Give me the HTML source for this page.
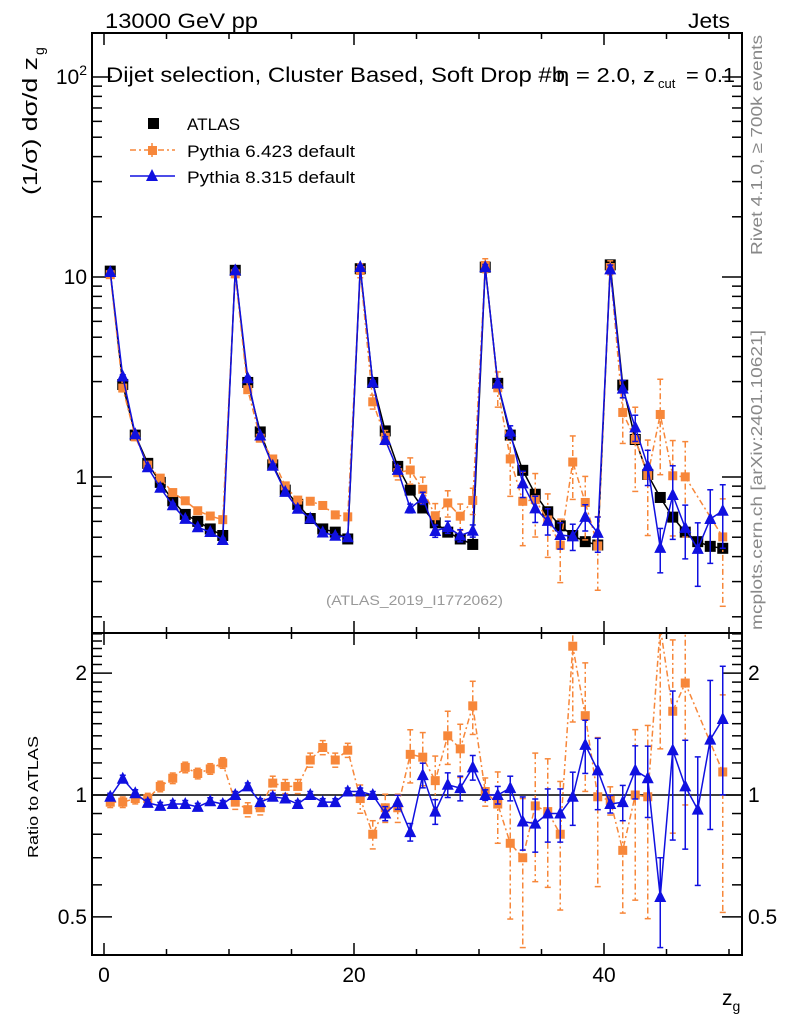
<!DOCTYPE html>
<html><head><meta charset="utf-8">
<style>
html,body{margin:0;padding:0;background:#fff;}
svg{display:block;font-family:"Liberation Sans",sans-serif;}
</style></head>
<body>
<svg id="chart" width="786" height="1024" viewBox="0 0 786 1024" xmlns="http://www.w3.org/2000/svg">
<defs>
<clipPath id="clipMain"><rect x="92" y="33" width="650" height="600"/></clipPath>
<clipPath id="clipRatio"><rect x="92" y="633" width="650" height="322"/></clipPath>
</defs>
<rect x="0" y="0" width="786" height="1024" fill="#fff"/>
<g id="axes"></g>
<g id="mainMarks" clip-path="url(#clipMain)"></g>
<g id="ratioMarks" clip-path="url(#clipRatio)"></g>
<rect x="92" y="33" width="650" height="600" fill="none" stroke="#000" stroke-width="2"/>
<rect x="92" y="633" width="650" height="322" fill="none" stroke="#000" stroke-width="2"/>

<text x="105" y="28" font-size="21" textLength="153" lengthAdjust="spacingAndGlyphs">13000 GeV pp</text>
<text x="688" y="28" font-size="21" textLength="42" lengthAdjust="spacingAndGlyphs">Jets</text>
<g>
<text x="106" y="82" font-size="21" textLength="459" lengthAdjust="spacingAndGlyphs">Dijet selection, Cluster Based, Soft Drop #b</text>
<text x="556" y="82" font-size="20" textLength="99" lengthAdjust="spacingAndGlyphs">η = 2.0, z</text>
<text x="658" y="88" font-size="13">cut</text>
<text x="686" y="82" font-size="20" textLength="49" lengthAdjust="spacingAndGlyphs">= 0.1</text>
</g>
<g>
<text transform="translate(37,195) rotate(-90)" font-size="20" textLength="138" lengthAdjust="spacingAndGlyphs">(1/σ) dσ/d z</text>
<text transform="translate(44,55) rotate(-90)" font-size="14">g</text>
</g>
<text transform="translate(762,255) rotate(-90)" font-size="16" fill="#888" textLength="220" lengthAdjust="spacingAndGlyphs">Rivet 4.1.0, ≥ 700k events</text>
<text transform="translate(762,630) rotate(-90)" font-size="16" fill="#888" textLength="300" lengthAdjust="spacingAndGlyphs">mcplots.cern.ch [arXiv:2401.10621]</text>
<text x="326" y="605" font-size="14" fill="#999" textLength="177" lengthAdjust="spacingAndGlyphs">(ATLAS_2019_I1772062)</text>
<text transform="translate(38,858) rotate(-90)" font-size="15" textLength="122" lengthAdjust="spacingAndGlyphs">Ratio to ATLAS</text>
<text x="722" y="1005" font-size="21">z<tspan font-size="14" dy="6">g</tspan></text>

<g>
  <g>
    <rect x="148" y="118" width="11" height="11" fill="#000"/>
    <text x="187" y="130" font-size="17" textLength="53" lengthAdjust="spacingAndGlyphs">ATLAS</text>
  </g>
  <g>
    <line x1="130" y1="150" x2="175" y2="150" stroke="#f7873a" stroke-width="1.5" stroke-dasharray="6,3,2,3"/>
    <line x1="152" y1="143" x2="152" y2="157" stroke="#f7873a" stroke-width="1.5"/>
    <rect x="148" y="146" width="9" height="9" fill="#f7873a"/>
    <text x="187" y="157" font-size="17" textLength="168" lengthAdjust="spacingAndGlyphs">Pythia 6.423 default</text>
  </g>
  <g>
    <line x1="130" y1="176" x2="175" y2="176" stroke="#1010e0" stroke-width="1.5"/>
    <polygon points="152,169 146,181 158,181" fill="#1010e0"/>
    <text x="187" y="183" font-size="17" textLength="168" lengthAdjust="spacingAndGlyphs">Pythia 8.315 default</text>
  </g>
</g>
</svg>
<script>
const binCenters = [0.5,1.5,2.5,3.5,4.5,5.5,6.5,7.5,8.5,9.5,10.5,11.5,12.5,13.5,14.5,15.5,16.5,17.5,18.5,19.5,20.5,21.5,22.5,23.5,24.5,25.5,26.5,27.5,28.5,29.5,30.5,31.5,32.5,33.5,34.5,35.5,36.5,37.5,38.5,39.5,40.5,41.5,42.5,43.5,44.5,45.5,46.5,47.5,48.5,49.5];
const atlasValues = [10.7,2.9,1.62,1.17,0.94,0.76,0.65,0.60,0.55,0.51, 10.8,2.97,1.68,1.15,0.86,0.73,0.62,0.55,0.53,0.49, 11.0,2.97,1.70,1.13,0.86,0.70,0.59,0.53,0.49,0.46, 11.2,2.94,1.62,1.08,0.82,0.67,0.57,0.51,0.475,0.457, 11.5,2.88,1.54,1.03,0.79,0.63,0.53,0.475,0.45,0.44];
const py6Ratio = [0.96,0.96,0.98,0.98,1.05,1.10,1.17,1.13,1.16,1.20, 0.96,0.92,0.93,1.07,1.05,1.05,1.22,1.31,1.22,1.29, 0.98,0.80,0.93,0.93,1.26,1.24,1.085,1.40,1.30,1.66, 1.02,0.95,0.76,0.70,0.94,0.91,0.80,2.33,1.57,0.99, 0.97,0.73,1.0,0.99,2.6,1.61,1.89,null,null,1.14];
const py8Ratio = [0.99,1.097,1.01,0.956,0.94,0.95,0.95,0.935,0.965,0.95, 1.0,1.05,0.96,0.99,0.98,0.95,1.0,0.96,0.96,1.02, 1.02,1.0,0.90,0.96,0.81,1.12,0.91,1.06,1.04,1.17, 1.0,1.0,1.04,0.86,0.85,0.90,0.90,0.99,1.33,1.15, 0.95,0.96,1.15,1.10,0.56,1.29,1.05,0.92,1.37,1.54];
const py6RelErr = [0.03,0.03,0.03,0.03,0.03,0.03,0.03,0.03,0.03,0.03, 0.04,0.04,0.04,0.04,0.04,0.04,0.04,0.04,0.04,0.04, 0.08,0.08,0.08,0.08,0.15,0.15,0.15,0.15,0.15,0.15, 0.08,0.2,0.35,0.4,0.35,0.35,0.35,0.35,0.35,0.4, 0.08,0.3,0.45,0.5,0.5,0.5,0.5,0.5,0.5,0.55];
const py8RelErr = [0.02,0.02,0.02,0.02,0.02,0.02,0.02,0.02,0.02,0.02, 0.02,0.02,0.02,0.02,0.02,0.02,0.02,0.02,0.02,0.02, 0.02,0.02,0.04,0.04,0.05,0.07,0.07,0.07,0.07,0.07, 0.03,0.05,0.07,0.15,0.15,0.15,0.15,0.15,0.15,0.2, 0.05,0.1,0.15,0.2,0.25,0.4,0.3,0.35,0.4,0.35];
const xTickLabels = [0,20,40];
const mainTickLabels = [1,10,100];
const ratioTickLabels = [0.5,1,2];

const NS = "http://www.w3.org/2000/svg";
function xs(v){ return 104 + v*12.5; }
function ym(v){ return 477 - 200*Math.log10(v); }
function yr(v){ return 795 - 405*Math.log10(v); }
function mk(tag, attrs, parent){ const e=document.createElementNS(NS,tag); for(const k in attrs) e.setAttribute(k,attrs[k]); parent.appendChild(e); return e; }

const axes = document.getElementById('axes');
for(let v=0; v<=50; v+=5){
  const major = v%20===0, L = major?12:6, x=xs(v);
  for(const [y0,dir] of [[633,-1],[33,1],[955,-1],[633,1]]){
    const t = mk('line',{x1:x,x2:x,y1:y0,y2:y0+dir*L,stroke:'#000','stroke-width':1.5},axes);
    
    
  }
}
xTickLabels.forEach(v=>{
  const t = mk('text',{x:xs(v),y:982,'font-size':21,'text-anchor':'middle'},axes);
  t.textContent=v;
  
  
});
for(let d=0.1; d<=100; d*=10){
  for(let m=1;m<=9;m++){
    const v=d*m, y=ym(v);
    if(y<33||y>633) continue;
    const L = m===1?20:10;
    for(const [x0,dir] of [[92,1],[742,-1]]){
      const t=mk('line',{x1:x0,x2:x0+dir*L,y1:y,y2:y,stroke:'#000','stroke-width':1.5},axes);
      
      
    }
  }
}
mainTickLabels.forEach(v=>{
  const t=mk('text',{x:87,y:ym(v)+7,'font-size':21,'text-anchor':'end'},axes);
  if(v===100){ t.textContent='10'; const s=mk('tspan',{'font-size':14,dy:-9},t); s.textContent='2'; }
  else t.textContent=v;
  
  
});
for(let i=4;i<=25;i++){
  const v=i/10, y=yr(v);
  if(y<633||y>955) continue;
  const major = (i===5||i===10||i===20), L=major?20:10;
  for(const [x0,dir] of [[92,1],[742,-1]]){
    const t=mk('line',{x1:x0,x2:x0+dir*L,y1:y,y2:y,stroke:'#000','stroke-width':1.5},axes);
    
    
  }
}
ratioTickLabels.forEach(v=>{
  for(const [x,anc] of [[87,'end'],[748,'start']]){
    const t=mk('text',{x:x,y:yr(v)+7,'font-size':21,'text-anchor':anc},axes);
    t.textContent=v;
    
    
  }
});

const main = document.getElementById('mainMarks');
const ratio = document.getElementById('ratioMarks');
const OR='#f7873a', BL='#1010e0', DASH='6,3,2,3';

function errBar(g,x,y1,y2,col,dash){
  const a={x1:x,x2:x,y1:y1,y2:y2,stroke:col,'stroke-width':1.5}; if(dash) a['stroke-dasharray']=dash;
  const l=mk('line',a,g);
  
  
  for(const y of [y1,y2]){
    const c=mk('line',{x1:x-3,x2:x+3,y1:y,y2:y,stroke:col,'stroke-width':1.5},g);
    
    
  }
}
function series(g, yf, vals, errs, col, dash, kind, name){
  const pts=[];
  vals.forEach((v,i)=>{ if(v!=null && v>0) pts.push([xs(binCenters[i]), yf(v), v, errs?errs[i]:0]); });
  const pl=mk('polyline',{points:pts.map(p=>p[0]+','+p[1]).join(' '),fill:'none',stroke:col,'stroke-width':1.5},g);
  if(dash) pl.setAttribute('stroke-dasharray',dash);
  
  
  pts.forEach(p=>{
    if(p[3]>0) errBar(g,p[0],yf(p[2]*(1+p[3])),yf(Math.max(p[2]*(1-p[3]),0.01)),col,dash);
    let m;
    if(kind==='tri') m=mk('polygon',{points:`${p[0]},${p[1]-7} ${p[0]-6},${p[1]+5} ${p[0]+6},${p[1]+5}`,fill:col},g);
    else if(kind==='sqO') m=mk('rect',{x:p[0]-4.5,y:p[1]-4.5,width:9,height:9,fill:col},g);
    else m=mk('rect',{x:p[0]-5.5,y:p[1]-5.5,width:11,height:11,fill:'#000'},g);
    
    
  });
}
const py6Vals = atlasValues.map((a,i)=>py6Ratio[i]==null?null:a*py6Ratio[i]);
const py8Vals = atlasValues.map((a,i)=>a*py8Ratio[i]);
series(main, ym, atlasValues, null, '#000', null, 'sqA', 'atlas');
series(main, ym, py6Vals, py6RelErr, OR, DASH, 'sqO', 'pythia6');
series(main, ym, py8Vals, py8RelErr, BL, null, 'tri', 'pythia8');

const one=mk('line',{x1:92,x2:742,y1:yr(1),y2:yr(1),stroke:'#000','stroke-width':1.5},ratio);


series(ratio, yr, py6Ratio, py6RelErr, OR, DASH, 'sqO', 'pythia6-ratio');
series(ratio, yr, py8Ratio, py8RelErr, BL, null, 'tri', 'pythia8-ratio');
</script>
</body></html>
